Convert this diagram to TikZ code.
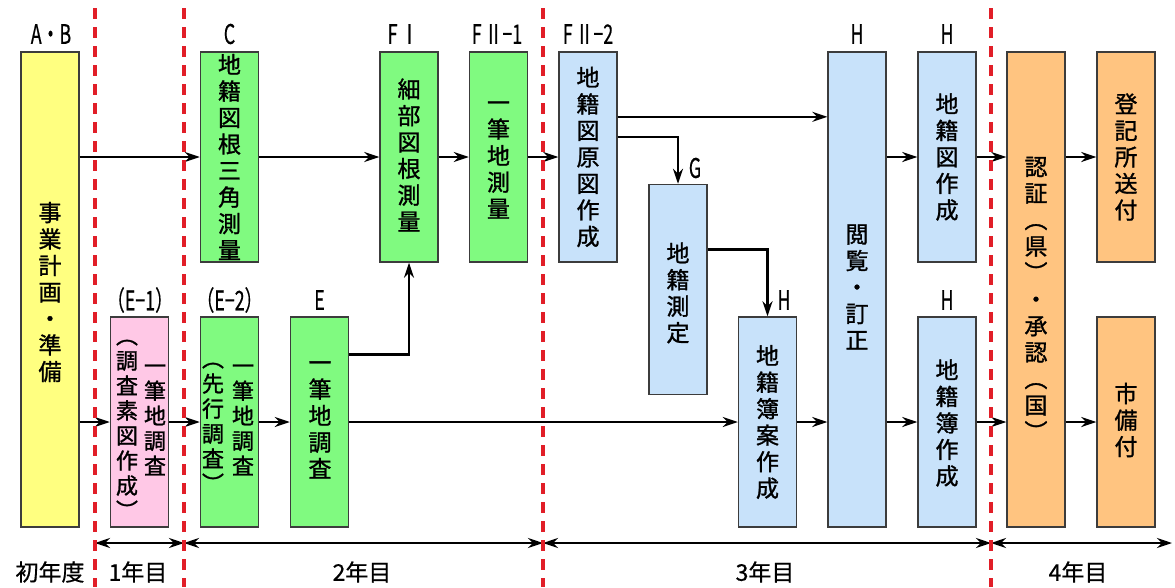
\documentclass[tikz,border=0pt]{standalone}
\usepackage{fontspec}
\newfontfamily\jp{Noto Sans CJK JP}[FakeBold=1.2]
\newfontfamily\jpl{Noto Sans CJK JP}[FakeBold=0.6]
\usetikzlibrary{arrows.meta,calc}
\definecolor{cyel}{RGB}{255,255,128}
\definecolor{cgrn}{RGB}{128,250,128}
\definecolor{cpnk}{RGB}{255,200,230}
\definecolor{cblu}{RGB}{200,226,250}
\definecolor{corg}{RGB}{255,196,128}
\definecolor{cred}{RGB}{225,30,40}
\definecolor{cedge}{RGB}{60,60,60}
\newcommand{\cnd}[1]{\scalebox{0.66}[1]{#1}}
\newcommand{\vl}{\rotatebox[origin=c]{-90}{（}}
\newcommand{\vr}{\rotatebox[origin=c]{-90}{）}}
\begin{document}
\begin{tikzpicture}[x=1pt,y=-1pt,
  box/.style={draw=cedge, line width=1.4pt, minimum width=58pt, inner sep=0pt},
  tall/.style={minimum height=210pt},
  full/.style={minimum height=475pt},
  vt/.style={inner sep=0pt, align=center, font=\jp\fontsize{23}{26.5}\selectfont},
  vtn/.style={inner sep=0pt, align=center, font=\jp\fontsize{22}{25}\selectfont},
  lab/.style={inner sep=0pt, font=\jpl\fontsize{27}{27}\selectfont},
  yr/.style={inner sep=0pt, font=\jpl\fontsize{23}{23}\selectfont},
  arr/.style={draw, line width=2.5pt, -{Stealth[length=15pt,width=10pt]}},
  tl/.style={draw, line width=2.5pt, {Stealth[length=15pt,width=10pt]}-{Stealth[length=15pt,width=10pt]}},
  sep/.style={draw=cred, line width=3.2pt, dash pattern=on 11pt off 8pt}]
\useasboundingbox (0,0) rectangle (1175,587);
\fill[white] (0,0) rectangle (1175,587);

% boxes
\node[box,full,fill=cyel] (ab) at (50,289.5) {};
\node[box,tall,fill=cgrn] (c) at (229.5,157) {};
\node[box,tall,fill=cgrn] (fi) at (409,157) {};
\node[box,tall,fill=cgrn] (f21) at (498.5,157) {};
\node[box,tall,fill=cblu] (f22) at (588,157) {};
\node[box,tall,fill=cblu] (g) at (678,289.5) {};
\node[box,tall,fill=cblu] (bokan) at (767.5,422) {};
\node[box,full,fill=cblu] (etsu) at (857,289.5) {};
\node[box,tall,fill=cblu] (zuH) at (947,157) {};
\node[box,tall,fill=cblu] (boH) at (947,422) {};
\node[box,full,fill=corg] (nin) at (1036,289.5) {};
\node[box,tall,fill=corg] (toki) at (1126,157) {};
\node[box,tall,fill=corg] (shi) at (1126,422) {};
\node[box,tall,fill=cpnk] (e1) at (139.5,422) {};
\node[box,tall,fill=cgrn] (e2) at (229.5,422) {};
\node[box,tall,fill=cgrn] (e) at (319.5,422) {};

% box texts
\node[vt] (abt) at (50,292) {事\\業\\計\\画\\・\\準\\備};
\node[vt] (ct) at (c) {地\\籍\\図\\根\\三\\角\\測\\量};
\node[vt] (fit) at (409,155) {細\\部\\図\\根\\測\\量};
\node[vt] (f21t) at (498.5,160) {一\\筆\\地\\測\\量};
\node[vt] (f22t) at (f22) {地\\籍\\図\\原\\図\\作\\成};
\node[vt] (gt) at (678,293) {地\\籍\\測\\定};
\node[vt] (bokant) at (bokan) {地\\籍\\簿\\案\\作\\成};
\node[vt] (etsut) at (857,287) {閲\\覧\\・\\訂\\正};
\node[vt] (zuHt) at (zuH) {地\\籍\\図\\作\\成};
\node[vt] (boHt) at (947,423) {地\\籍\\簿\\作\\成};
\node[vt] (nint) at (1036,300) {認\\証\\\vl\\県\\\vr\\・\\承\\認\\\vl\\国\\\vr};
\node[vt] (tokit) at (toki) {登\\記\\所\\送\\付};
\node[vt] (shit) at (1126,420) {市\\備\\付};
\node[vtn] (e1r) at (155,420) {一\\筆\\地\\調\\査};
\node[vtn] (e1l) at (127,423) {\vl\\調\\査\\素\\図\\作\\成\\\vr};
\node[vtn] (e2r) at (243,420) {一\\筆\\地\\調\\査};
\node[vtn] (e2l) at (213,421) {\vl\\先\\行\\調\\査\\\vr};
\node[vt] (et) at (320,420) {一\\筆\\地\\調\\査};

% labels
\node[lab] (lab1) at (51,34) {\cnd{A・B}};
\node[lab] (lc) at (229.5,34) {\cnd{C}};
\node[lab] (lfi) at (403,34) {\cnd{F\,Ⅰ}};
\node[lab] (lf21) at (497,34) {\cnd{F\,Ⅱ−1}};
\node[lab] (lf22) at (588,34) {\cnd{F\,Ⅱ−2}};
\node[lab] (lh1) at (857,34) {\cnd{H}};
\node[lab] (lh2) at (947,34) {\cnd{H}};
\node[lab] (lg) at (695,168) {\cnd{G}};
\node[lab] (lh3) at (784,300) {\cnd{H}};
\node[lab] (lh4) at (947,300) {\cnd{H}};
\node[lab] (le1) at (140,300) {\cnd{（E−1）}};
\node[lab] (le2) at (229.5,300) {\cnd{（E−2）}};
\node[lab] (le) at (319.5,300) {\cnd{E}};

% connectors top
\draw[arr] (ab.east |- c.west) -- (c.west);
\draw[arr] (c.east) -- (fi.west);
\draw[arr] (fi.east) -- (f21.west);
\draw[arr] (f21.east) -- (f22.west);
\coordinate (p1) at ($(f22.north east)!0.31!(f22.south east)$);
\coordinate (p2) at ($(f22.north east)!0.405!(f22.south east)$);
\coordinate (p3) at ($(g.north east)!0.31!(g.south east)$);
\coordinate (p4) at ($(e.north east)!0.18!(e.south east)$);
\draw[arr] (p1) -- (etsu.west |- p1);
\draw[arr] (p2) -| (g.north);
\draw[arr] (p3) -| (bokan.north);
\draw[arr] (p4) -| (fi.south);
\draw[arr] (etsu.east |- zuH.west) -- (zuH.west);
\draw[arr] (zuH.east) -- (nin.west |- zuH.east);
\draw[arr] (nin.east |- toki.west) -- (toki.west);
% connectors bottom
\draw[arr] (ab.east |- e1.west) -- (e1.west);
\draw[arr] (e1.east) -- (e2.west);
\draw[arr] (e2.east) -- (e.west);
\draw[arr] (e.east) -- (bokan.west);
\draw[arr] (bokan.east) -- (etsu.west |- bokan.east);
\draw[arr] (etsu.east |- boH.west) -- (boH.west);
\draw[arr] (boH.east) -- (nin.west |- boH.east);
\draw[arr] (nin.east |- shi.west) -- (shi.west);

% timeline
\coordinate (t0) at (95,543);
\coordinate (t1) at (184,543);
\coordinate (t2) at (543,543);
\coordinate (t3) at (991,543);
\coordinate (t4) at (1172,543);
\draw[tl] (t0) -- (t1);
\draw[tl] (t1) -- (t2);
\draw[tl] (t2) -- (t3);
\draw[tl] (t3) -- (t4);
\node[yr] (y0) at (50,572) {初年度};
\node[yr] (y1) at (138,572) {1年目};
\node[yr] (y2) at (362,572) {2年目};
\node[yr] (y3) at (765,572) {3年目};
\node[yr] (y4) at (1078,572) {4年目};

% year separators
\draw[sep] (95,8) -- (95,587);
\draw[sep] (184,8) -- (184,587);
\draw[sep] (543,8) -- (543,587);
\draw[sep] (991,8) -- (991,587);
\end{tikzpicture}
\end{document}
